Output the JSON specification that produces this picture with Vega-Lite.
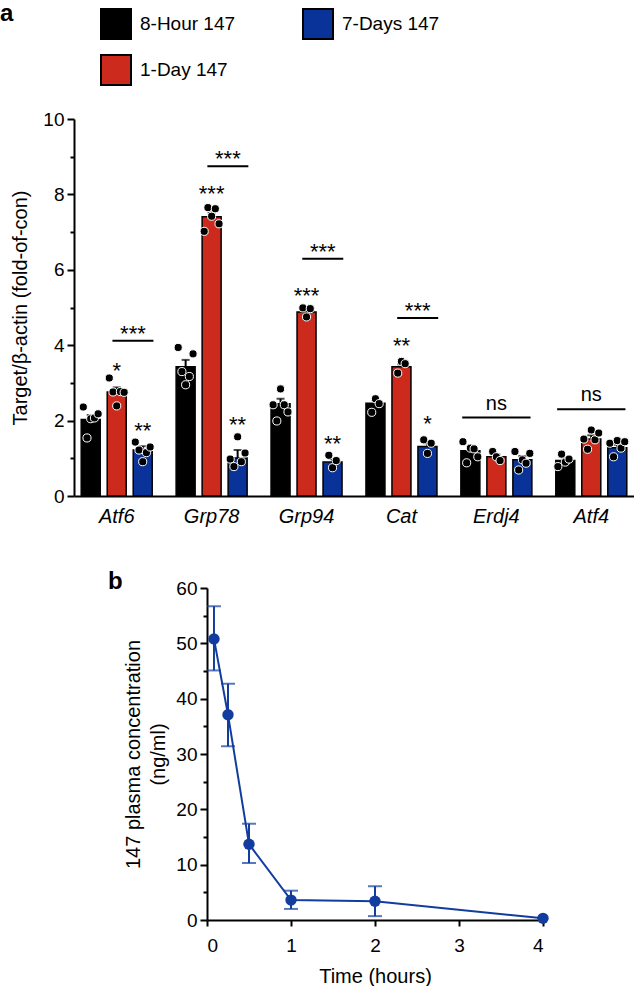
{
  "$schema": "https://vega.github.io/schema/vega-lite/v6.json",
  "padding": {"left": 0, "top": 2, "right": 0, "bottom": 0},
  "background": "white",
  "config": {
    "font": "Liberation Sans",
    "view": {"stroke": null},
    "axis": {"domainColor": "black", "domainWidth": 2, "tickColor": "black", "tickWidth": 2, "labelColor": "black", "titleColor": "black", "labelFont": "Liberation Sans", "titleFont": "Liberation Sans", "labelFontSize": 19, "titleFontSize": 20, "titleFontWeight": "normal", "grid": false},
    "title": {"fontSize": 24, "fontWeight": "bold", "anchor": "start", "color": "black", "font": "Liberation Sans"},
    "concat": {"spacing": 44}
  },
  "datasets": {
    "bars": [
      {"gene": "Atf6", "group": "8-Hour 147", "mean": 2.03, "hi": 2.15},
      {"gene": "Atf6", "group": "1-Day 147", "mean": 2.76, "hi": 2.88},
      {"gene": "Atf6", "group": "7-Days 147", "mean": 1.22, "hi": 1.32},
      {"gene": "Grp78", "group": "8-Hour 147", "mean": 3.43, "hi": 3.61},
      {"gene": "Grp78", "group": "1-Day 147", "mean": 7.41, "hi": 7.52},
      {"gene": "Grp78", "group": "7-Days 147", "mean": 1.01, "hi": 1.22},
      {"gene": "Grp94", "group": "8-Hour 147", "mean": 2.45, "hi": 2.58},
      {"gene": "Grp94", "group": "1-Day 147", "mean": 4.88, "hi": 4.93},
      {"gene": "Grp94", "group": "7-Days 147", "mean": 0.9, "hi": 0.98},
      {"gene": "Cat", "group": "8-Hour 147", "mean": 2.46, "hi": 2.55},
      {"gene": "Cat", "group": "1-Day 147", "mean": 3.43, "hi": 3.49},
      {"gene": "Cat", "group": "7-Days 147", "mean": 1.31, "hi": 1.4},
      {"gene": "Erdj4", "group": "8-Hour 147", "mean": 1.2, "hi": 1.3},
      {"gene": "Erdj4", "group": "1-Day 147", "mean": 1.04, "hi": 1.1},
      {"gene": "Erdj4", "group": "7-Days 147", "mean": 0.96, "hi": 1.06},
      {"gene": "Atf4", "group": "8-Hour 147", "mean": 0.94, "hi": 1.02},
      {"gene": "Atf4", "group": "1-Day 147", "mean": 1.51, "hi": 1.61},
      {"gene": "Atf4", "group": "7-Days 147", "mean": 1.28, "hi": 1.36}
    ],
    "dots": [
      {"gene": "Atf6", "group": "8-Hour 147", "rep": 1, "v": 2.36},
      {"gene": "Atf6", "group": "8-Hour 147", "rep": 2, "v": 1.54},
      {"gene": "Atf6", "group": "8-Hour 147", "rep": 3, "v": 2.05},
      {"gene": "Atf6", "group": "8-Hour 147", "rep": 4, "v": 2.07},
      {"gene": "Atf6", "group": "8-Hour 147", "rep": 5, "v": 2.18},
      {"gene": "Atf6", "group": "1-Day 147", "rep": 1, "v": 3.13},
      {"gene": "Atf6", "group": "1-Day 147", "rep": 2, "v": 2.76},
      {"gene": "Atf6", "group": "1-Day 147", "rep": 3, "v": 2.39},
      {"gene": "Atf6", "group": "1-Day 147", "rep": 4, "v": 2.77},
      {"gene": "Atf6", "group": "1-Day 147", "rep": 5, "v": 2.75},
      {"gene": "Atf6", "group": "7-Days 147", "rep": 1, "v": 1.43},
      {"gene": "Atf6", "group": "7-Days 147", "rep": 2, "v": 1.22},
      {"gene": "Atf6", "group": "7-Days 147", "rep": 3, "v": 0.91},
      {"gene": "Atf6", "group": "7-Days 147", "rep": 4, "v": 1.15},
      {"gene": "Atf6", "group": "7-Days 147", "rep": 5, "v": 1.3},
      {"gene": "Grp78", "group": "8-Hour 147", "rep": 1, "v": 3.94},
      {"gene": "Grp78", "group": "8-Hour 147", "rep": 2, "v": 3.3},
      {"gene": "Grp78", "group": "8-Hour 147", "rep": 3, "v": 2.95},
      {"gene": "Grp78", "group": "8-Hour 147", "rep": 4, "v": 3.17},
      {"gene": "Grp78", "group": "8-Hour 147", "rep": 5, "v": 3.77},
      {"gene": "Grp78", "group": "1-Day 147", "rep": 1, "v": 7.02},
      {"gene": "Grp78", "group": "1-Day 147", "rep": 2, "v": 7.65},
      {"gene": "Grp78", "group": "1-Day 147", "rep": 3, "v": 7.42},
      {"gene": "Grp78", "group": "1-Day 147", "rep": 4, "v": 7.62},
      {"gene": "Grp78", "group": "1-Day 147", "rep": 5, "v": 7.22},
      {"gene": "Grp78", "group": "7-Days 147", "rep": 1, "v": 0.98},
      {"gene": "Grp78", "group": "7-Days 147", "rep": 2, "v": 0.78},
      {"gene": "Grp78", "group": "7-Days 147", "rep": 3, "v": 1.57},
      {"gene": "Grp78", "group": "7-Days 147", "rep": 4, "v": 0.91},
      {"gene": "Grp78", "group": "7-Days 147", "rep": 5, "v": 1.14},
      {"gene": "Grp94", "group": "8-Hour 147", "rep": 1, "v": 2.42},
      {"gene": "Grp94", "group": "8-Hour 147", "rep": 2, "v": 1.99},
      {"gene": "Grp94", "group": "8-Hour 147", "rep": 3, "v": 2.84},
      {"gene": "Grp94", "group": "8-Hour 147", "rep": 4, "v": 2.42},
      {"gene": "Grp94", "group": "8-Hour 147", "rep": 5, "v": 2.23},
      {"gene": "Grp94", "group": "1-Day 147", "rep": 2, "v": 4.99},
      {"gene": "Grp94", "group": "1-Day 147", "rep": 3, "v": 4.75},
      {"gene": "Grp94", "group": "1-Day 147", "rep": 4, "v": 4.97},
      {"gene": "Grp94", "group": "7-Days 147", "rep": 2, "v": 1.08},
      {"gene": "Grp94", "group": "7-Days 147", "rep": 3, "v": 0.75},
      {"gene": "Grp94", "group": "7-Days 147", "rep": 4, "v": 0.94},
      {"gene": "Cat", "group": "8-Hour 147", "rep": 2, "v": 2.22},
      {"gene": "Cat", "group": "8-Hour 147", "rep": 3, "v": 2.58},
      {"gene": "Cat", "group": "8-Hour 147", "rep": 4, "v": 2.45},
      {"gene": "Cat", "group": "1-Day 147", "rep": 2, "v": 3.26},
      {"gene": "Cat", "group": "1-Day 147", "rep": 3, "v": 3.57},
      {"gene": "Cat", "group": "1-Day 147", "rep": 4, "v": 3.51},
      {"gene": "Cat", "group": "7-Days 147", "rep": 2, "v": 1.49},
      {"gene": "Cat", "group": "7-Days 147", "rep": 3, "v": 1.13},
      {"gene": "Cat", "group": "7-Days 147", "rep": 4, "v": 1.4},
      {"gene": "Erdj4", "group": "8-Hour 147", "rep": 1, "v": 1.44},
      {"gene": "Erdj4", "group": "8-Hour 147", "rep": 2, "v": 0.88},
      {"gene": "Erdj4", "group": "8-Hour 147", "rep": 3, "v": 1.27},
      {"gene": "Erdj4", "group": "8-Hour 147", "rep": 4, "v": 1.25},
      {"gene": "Erdj4", "group": "8-Hour 147", "rep": 5, "v": 1.04},
      {"gene": "Erdj4", "group": "1-Day 147", "rep": 2, "v": 1.18},
      {"gene": "Erdj4", "group": "1-Day 147", "rep": 3, "v": 1.04},
      {"gene": "Erdj4", "group": "1-Day 147", "rep": 4, "v": 0.94},
      {"gene": "Erdj4", "group": "7-Days 147", "rep": 1, "v": 1.18},
      {"gene": "Erdj4", "group": "7-Days 147", "rep": 2, "v": 0.69},
      {"gene": "Erdj4", "group": "7-Days 147", "rep": 3, "v": 0.96},
      {"gene": "Erdj4", "group": "7-Days 147", "rep": 4, "v": 0.87},
      {"gene": "Erdj4", "group": "7-Days 147", "rep": 5, "v": 1.13},
      {"gene": "Atf4", "group": "8-Hour 147", "rep": 1, "v": 0.78},
      {"gene": "Atf4", "group": "8-Hour 147", "rep": 2, "v": 1.11},
      {"gene": "Atf4", "group": "8-Hour 147", "rep": 3, "v": 0.9},
      {"gene": "Atf4", "group": "8-Hour 147", "rep": 4, "v": 0.98},
      {"gene": "Atf4", "group": "1-Day 147", "rep": 1, "v": 1.51},
      {"gene": "Atf4", "group": "1-Day 147", "rep": 2, "v": 1.24},
      {"gene": "Atf4", "group": "1-Day 147", "rep": 3, "v": 1.75},
      {"gene": "Atf4", "group": "1-Day 147", "rep": 4, "v": 1.49},
      {"gene": "Atf4", "group": "1-Day 147", "rep": 5, "v": 1.67},
      {"gene": "Atf4", "group": "7-Days 147", "rep": 1, "v": 1.4},
      {"gene": "Atf4", "group": "7-Days 147", "rep": 2, "v": 1.04},
      {"gene": "Atf4", "group": "7-Days 147", "rep": 3, "v": 1.47},
      {"gene": "Atf4", "group": "7-Days 147", "rep": 4, "v": 1.27},
      {"gene": "Atf4", "group": "7-Days 147", "rep": 5, "v": 1.44}
    ],
    "stars": [
      {"gene": "Atf6", "group": "1-Day 147", "label": "*", "y": 3.48},
      {"gene": "Atf6", "group": "7-Days 147", "label": "**", "y": 1.89},
      {"gene": "Grp78", "group": "1-Day 147", "label": "***", "y": 8.17},
      {"gene": "Grp78", "group": "7-Days 147", "label": "**", "y": 2.05},
      {"gene": "Grp94", "group": "1-Day 147", "label": "***", "y": 5.47},
      {"gene": "Grp94", "group": "7-Days 147", "label": "**", "y": 1.53},
      {"gene": "Cat", "group": "1-Day 147", "label": "**", "y": 4.14},
      {"gene": "Cat", "group": "7-Days 147", "label": "*", "y": 2.06}
    ],
    "pairs": [
      {"gene": "Atf6", "label": "***", "y": 4.12},
      {"gene": "Grp78", "label": "***", "y": 8.75},
      {"gene": "Grp94", "label": "***", "y": 6.29},
      {"gene": "Cat", "label": "***", "y": 4.72}
    ],
    "ns": [
      {"gene": "Erdj4", "label": "ns", "y": 2.08},
      {"gene": "Atf4", "label": "ns", "y": 2.3}
    ],
    "pk": [
      {"time": 0.083, "conc": 50.8, "lo": 45.1, "hi": 56.7},
      {"time": 0.25, "conc": 37.1, "lo": 31.4, "hi": 42.7},
      {"time": 0.5, "conc": 13.7, "lo": 10.3, "hi": 17.4},
      {"time": 1, "conc": 3.6, "lo": 2.0, "hi": 5.3},
      {"time": 2, "conc": 3.4, "lo": 0.7, "hi": 6.1},
      {"time": 4, "conc": 0.3, "lo": null, "hi": null}
    ]
  },
  "vconcat": [
    {
      "width": 560,
      "height": 377,
      "title": {"text": "a", "frame": "group", "anchor": "start", "dx": -74, "dy": -80},
      "encoding": {
        "x": {"field": "gene", "type": "nominal", "sort": ["Atf6", "Grp78", "Grp94", "Cat", "Erdj4", "Atf4"], "scale": {"paddingInner": 0.1, "paddingOuter": 0}, "axis": {"title": null, "labelAngle": 0, "ticks": false, "labelFontStyle": "italic", "labelPadding": 10, "labelFontSize": 20}},
        "y": {"type": "quantitative", "scale": {"domain": [0, 10], "nice": false}, "axis": {"values": [0, 1, 2, 3, 4, 5, 6, 7, 8, 9, 10], "labelExpr": "datum.value % 2 === 0 ? datum.label : ''", "tickSize": {"condition": {"test": "datum.value % 2 === 0", "value": 7}, "value": 4}, "labelPadding": 3, "title": "Target/β-actin (fold-of-con)", "titlePadding": 12}}
      },
      "layer": [
        {
          "data": {"name": "bars"},
          "transform": [{"calculate": "datum.group + '|3'", "as": "key"}],
          "mark": {"type": "bar", "width": 19, "stroke": "black", "strokeWidth": 1.5},
          "encoding": {
            "xOffset": {"field": "key", "type": "nominal", "scale": {"type": "point", "padding": 0.5, "domain": ["e1", "e2", "8-Hour 147|1", "8-Hour 147|2", "8-Hour 147|3", "8-Hour 147|4", "8-Hour 147|5", "g1", "g2", "1-Day 147|1", "1-Day 147|2", "1-Day 147|3", "1-Day 147|4", "1-Day 147|5", "g3", "g4", "7-Days 147|1", "7-Days 147|2", "7-Days 147|3", "7-Days 147|4", "7-Days 147|5", "e3", "e4"]}},
            "y": {"field": "mean", "type": "quantitative"},
            "color": {"field": "group", "type": "nominal", "scale": {"domain": ["8-Hour 147", "1-Day 147", "7-Days 147"], "range": ["#000000", "#cc2a1c", "#0a3399"]}, "legend": {"orient": "none", "legendX": 26, "legendY": -111, "columns": 2, "title": null, "symbolType": "square", "symbolSize": 900, "symbolStrokeColor": "black", "symbolStrokeWidth": 2, "symbolOpacity": 1, "labelFontSize": 19, "labelFont": "Liberation Sans", "labelColor": "black", "labelOffset": 8, "columnPadding": 63, "rowPadding": 8, "padding": 0}}
          }
        },
        {
          "data": {"name": "bars"},
          "transform": [{"calculate": "datum.group + '|3'", "as": "key"}],
          "mark": {"type": "rule", "color": "black", "strokeWidth": 2},
          "encoding": {
            "xOffset": {"field": "key", "type": "nominal"},
            "y": {"field": "mean", "type": "quantitative"},
            "y2": {"field": "hi"}
          }
        },
        {
          "data": {"name": "bars"},
          "transform": [{"calculate": "datum.group + '|3'", "as": "key"}],
          "mark": {"type": "tick", "orient": "horizontal", "color": "black", "size": 8, "thickness": 2},
          "encoding": {
            "xOffset": {"field": "key", "type": "nominal"},
            "y": {"field": "hi", "type": "quantitative"}
          }
        },
        {
          "data": {"name": "dots"},
          "transform": [{"calculate": "datum.group + '|' + datum.rep", "as": "key"}],
          "mark": {"type": "point", "filled": true, "fill": "black", "stroke": "white", "strokeWidth": 1, "size": 66, "opacity": 1},
          "encoding": {
            "xOffset": {"field": "key", "type": "nominal"},
            "y": {"field": "v", "type": "quantitative"}
          }
        },
        {
          "data": {"name": "stars"},
          "transform": [{"calculate": "datum.group + '|3'", "as": "key"}],
          "mark": {"type": "text", "fontSize": 22, "baseline": "alphabetic", "dy": 13, "color": "black"},
          "encoding": {
            "xOffset": {"field": "key", "type": "nominal"},
            "y": {"field": "y", "type": "quantitative"},
            "text": {"field": "label"}
          }
        },
        {
          "data": {"name": "pairs"},
          "mark": {"type": "rule", "color": "black", "strokeWidth": 2},
          "encoding": {
            "x": {"field": "gene", "type": "nominal", "sort": ["Atf6", "Grp78", "Grp94", "Cat", "Erdj4", "Atf4"], "bandPosition": 0.45},
            "x2": {"field": "gene", "bandPosition": 0.93},
            "y": {"field": "y", "type": "quantitative"}
          }
        },
        {
          "data": {"name": "pairs"},
          "mark": {"type": "text", "fontSize": 22, "baseline": "alphabetic", "dy": 0, "color": "black"},
          "encoding": {
            "x": {"field": "gene", "type": "nominal", "sort": ["Atf6", "Grp78", "Grp94", "Cat", "Erdj4", "Atf4"], "bandPosition": 0.69},
            "y": {"field": "y", "type": "quantitative"},
            "text": {"field": "label"}
          }
        },
        {
          "data": {"name": "ns"},
          "mark": {"type": "rule", "color": "black", "strokeWidth": 2},
          "encoding": {
            "x": {"field": "gene", "type": "nominal", "sort": ["Atf6", "Grp78", "Grp94", "Cat", "Erdj4", "Atf4"], "bandPosition": 0.1},
            "x2": {"field": "gene", "bandPosition": 0.9},
            "y": {"field": "y", "type": "quantitative"}
          }
        },
        {
          "data": {"name": "ns"},
          "mark": {"type": "text", "fontSize": 20, "baseline": "alphabetic", "dy": -8, "color": "black"},
          "encoding": {
            "x": {"field": "gene", "type": "nominal", "sort": ["Atf6", "Grp78", "Grp94", "Cat", "Erdj4", "Atf4"], "bandPosition": 0.5},
            "y": {"field": "y", "type": "quantitative"},
            "text": {"field": "label"}
          }
        }
      ]
    },
    {
      "spacing": 20,
      "hconcat": [
        {
          "width": 14,
          "height": 10,
          "data": {"values": [{"t": ""}]},
          "mark": {"type": "text"},
          "encoding": {"text": {"field": "t"}}
        },
        {
          "width": 336,
          "height": 332,
          "title": {"text": "b", "frame": "group", "anchor": "start", "dx": -99, "dy": 19},
          "data": {"name": "pk"},
          "encoding": {
            "x": {"field": "time", "type": "quantitative", "scale": {"domain": [0, 4], "nice": false}, "axis": {"values": [0, 1, 2, 3, 4], "title": "Time (hours)", "tickSize": 6, "labelPadding": 10, "titlePadding": 11}},
            "y": {"type": "quantitative", "scale": {"domain": [0, 60], "nice": false}, "axis": {"values": [0, 5, 10, 15, 20, 25, 30, 35, 40, 45, 50, 55, 60], "labelExpr": "datum.value % 10 === 0 ? datum.label : ''", "tickSize": {"condition": {"test": "datum.value % 10 === 0", "value": 7}, "value": 4}, "labelPadding": 3, "title": ["147 plasma concentration", "(ng/ml)"], "titleLineHeight": 25, "titlePadding": 7}}
          },
          "layer": [
            {
              "mark": {"type": "rule", "color": "#123d9e", "strokeWidth": 2},
              "encoding": {"y": {"field": "lo"}, "y2": {"field": "hi"}}
            },
            {
              "mark": {"type": "tick", "orient": "horizontal", "color": "#123d9e", "size": 14, "thickness": 2},
              "encoding": {"y": {"field": "lo"}}
            },
            {
              "mark": {"type": "tick", "orient": "horizontal", "color": "#123d9e", "size": 14, "thickness": 2},
              "encoding": {"y": {"field": "hi"}}
            },
            {
              "mark": {"type": "line", "color": "#123d9e", "strokeWidth": 2},
              "encoding": {"y": {"field": "conc"}}
            },
            {
              "mark": {"type": "point", "filled": true, "color": "#123d9e", "size": 130, "opacity": 1},
              "encoding": {"y": {"field": "conc"}}
            }
          ]
        }
      ]
    }
  ]
}
